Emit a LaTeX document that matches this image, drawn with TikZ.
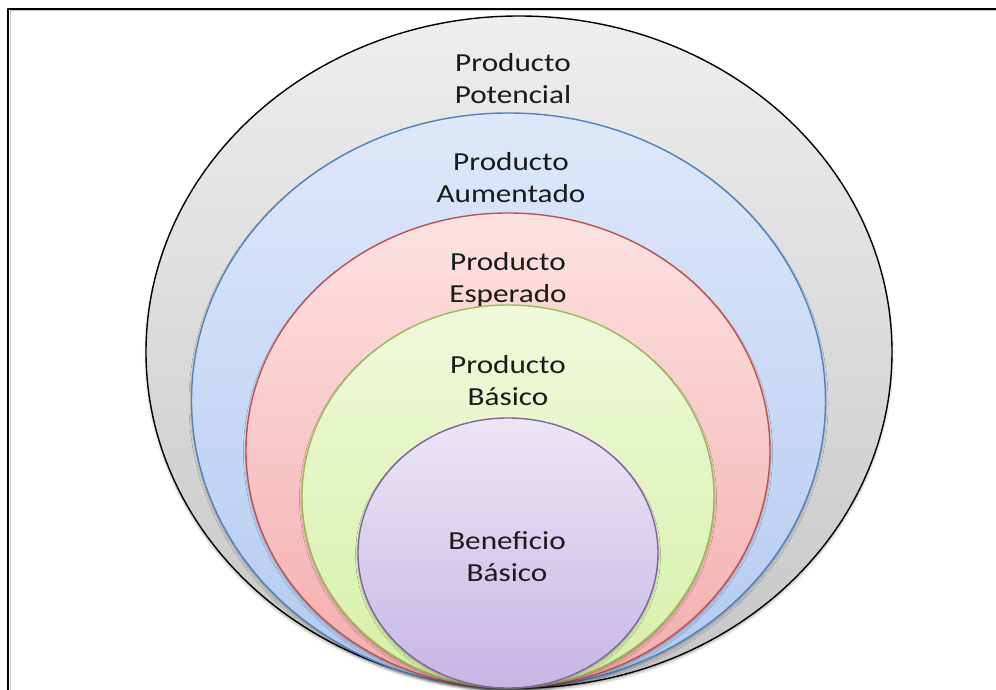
\documentclass[tikz,border=0pt]{standalone}
\usepackage{fontspec}
\setmainfont{Carlito}[FakeStretch=1.2]
\usetikzlibrary{shadows.blur}

\definecolor{grisTop}{RGB}{238,238,238}
\definecolor{grisBot}{RGB}{198,198,198}
\definecolor{azulTop}{RGB}{222,232,250}
\definecolor{azulBot}{RGB}{178,202,240}
\definecolor{azulLn}{RGB}{79,129,189}
\definecolor{rojoTop}{RGB}{253,226,226}
\definecolor{rojoBot}{RGB}{244,172,172}
\definecolor{rojoLn}{RGB}{192,80,77}
\definecolor{verdeTop}{RGB}{240,249,220}
\definecolor{verdeBot}{RGB}{214,240,166}
\definecolor{verdeLn}{RGB}{155,187,89}
\definecolor{moradoTop}{RGB}{236,230,246}
\definecolor{moradoBot}{RGB}{198,182,228}
\definecolor{moradoLn}{RGB}{128,100,162}
\definecolor{texto}{RGB}{26,26,26}

\begin{document}
\begin{tikzpicture}[x=1bp,y=1bp,line join=bevel,
  capa/.style={line width=1.4bp,blur shadow={shadow xshift=0bp,shadow yshift=-2.5bp,
      shadow blur radius=2.5bp,shadow opacity=30}},
  rotulo/.style={text=texto,align=center,font=\fontsize{26bp}{32bp}\selectfont}]
  \useasboundingbox (0bp,0bp) rectangle (996bp,690bp);
%%
  % Frame
  \draw [line width=1bp,gray!40] (10bp,0bp) -- (10bp,679bp) -- (996bp,679bp);
  \draw [line width=2.5bp] (8bp,0bp) -- (8bp,681bp) -- (996bp,681bp);
  % Node: Producto Potencial
\begin{scope}
  \draw [capa,draw=black,top color=grisTop,bottom color=grisBot] (519bp,338bp) ellipse (373bp and 336bp);
  \node [rotulo] (potencial) at (513bp,611bp) {Producto\\Potencial};
\end{scope}
  % Node: Producto Aumentado
\begin{scope}
  \draw [capa,draw=azulLn,top color=azulTop,bottom color=azulBot] (508.5bp,289.5bp) ellipse (317bp and 287.5bp);
  \node [rotulo] (aumentado) at (511bp,512bp) {Producto\\Aumentado};
\end{scope}
  % Node: Producto Esperado
\begin{scope}
  \draw [capa,draw=rojoLn,top color=rojoTop,bottom color=rojoBot] (508bp,239.5bp) ellipse (262bp and 237.5bp);
  \node [rotulo] (esperado) at (508bp,410.5bp) {Producto\\Esperado};
\end{scope}
  % Node: Producto Basico
\begin{scope}
  \draw [capa,draw=verdeLn,top color=verdeTop,bottom color=verdeBot] (508bp,193.5bp) ellipse (206bp and 191.5bp);
  \node [rotulo] (basico) at (508bp,309bp) {Producto\\Básico};
\end{scope}
  % Node: Beneficio Basico
\begin{scope}
  \draw [capa,draw=moradoLn,top color=moradoTop,bottom color=moradoBot] (508bp,137bp) ellipse (150bp and 135bp);
  \node [rotulo] (beneficio) at (507bp,133bp) {Beneficio\\Básico};
\end{scope}
%
\end{tikzpicture}
\end{document}
